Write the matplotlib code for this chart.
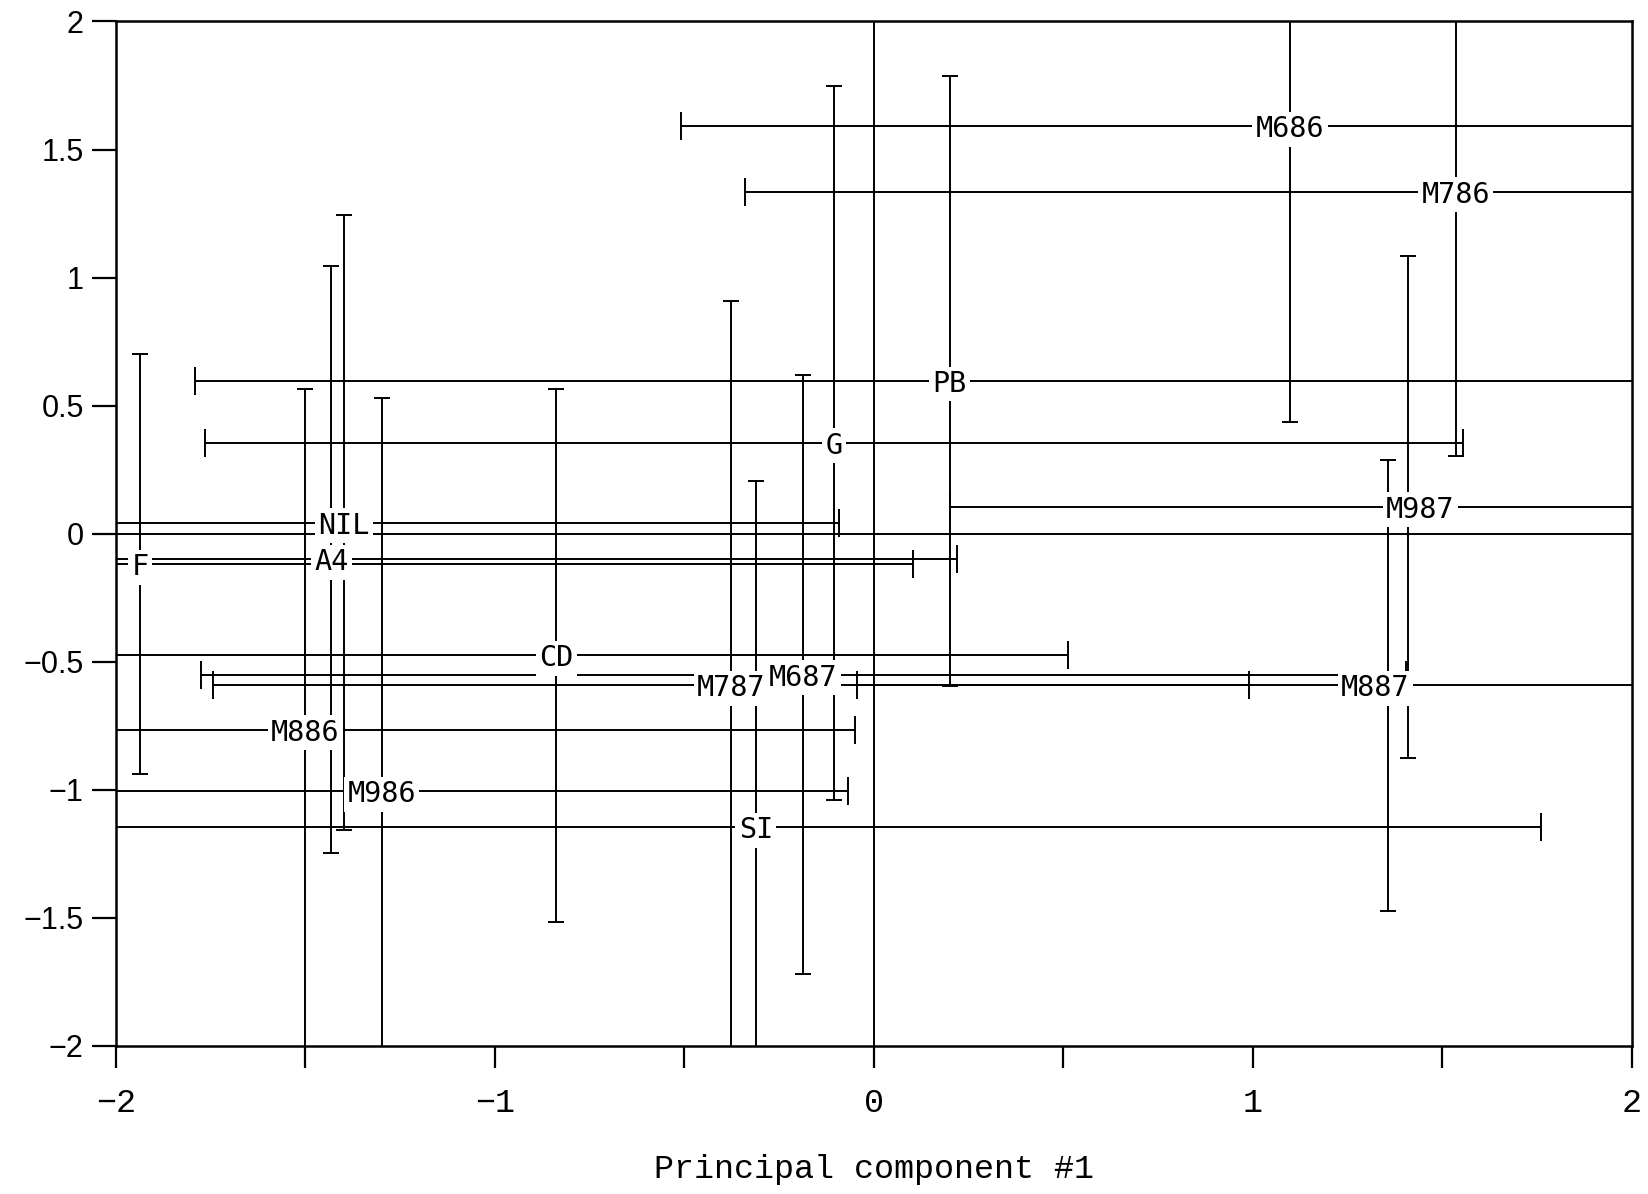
import matplotlib
matplotlib.use("Agg")
import matplotlib.pyplot as plt

# samples: position on the first two principal components with +/- spread
names = ["M686", "M786", "PB", "G", "M987", "NIL", "A4", "F",
         "CD", "M787", "M687", "M887", "M886", "M986", "SI"]
pc1 = [1.098, 1.535, 0.20, -0.105, 1.41, -1.398, -1.431, -1.936,
       -0.838, -0.376, -0.186, 1.357, -1.50, -1.298, -0.311]
pc2 = [1.59, 1.335, 0.596, 0.355, 0.105, 0.043, -0.10, -0.12,
       -0.475, -0.592, -0.55, -0.592, -0.765, -1.006, -1.147]
pc1_err = [1.606, 1.874, 1.99, 1.66, 1.21, 1.306, 1.65, 2.04,
           1.35, 1.366, 1.59, 1.40, 1.45, 1.23, 2.07]
pc2_err = [1.155, 1.03, 1.192, 1.395, 0.98, 1.20, 1.145, 0.82,
           1.04, 1.50, 1.17, 0.88, 1.33, 1.535, 1.354]

# a couple of labels sit a little off their bar crossing in the original
label_dx = {"M887": -0.034, "M987": 0.032}

xticks = [-2, -1.5, -1, -0.5, 0, 0.5, 1, 1.5, 2]
xticklabels = ["\u22122", "", "\u22121", "", "0", "", "1", "", "2"]
yticks = [-2, -1.5, -1, -0.5, 0, 0.5, 1, 1.5, 2]
yticklabels = ["\u22122", "\u22121.5", "\u22121", "\u22120.5", "0", "0.5", "1", "1.5", "2"]

fig = plt.figure(figsize=(16.48, 11.94), dpi=100)
ax = fig.add_axes([0.0702, 0.124, 0.92, 0.858])

lw = 1.4
ax.axhline(0, color="black", lw=lw, zorder=1)
ax.axvline(0, color="black", lw=lw, zorder=1)

ax.errorbar(pc1, pc2, xerr=pc1_err, fmt="none", ecolor="black",
            elinewidth=lw, capsize=10, capthick=lw, zorder=2)
ax.errorbar(pc1, pc2, yerr=pc2_err, fmt="none", ecolor="black",
            elinewidth=lw, capsize=6, capthick=lw, zorder=2)

for name, x, y in zip(names, pc1, pc2):
    ax.text(x + label_dx.get(name, 0), y, name, ha="center", va="center_baseline",
            fontsize=20.5, family=["Liberation Sans Narrow", "DejaVu Sans Mono"],
            bbox=dict(boxstyle="square,pad=0.12", fc="white", ec="none"),
            zorder=5)

ax.set_xlim(-2, 2)
ax.set_ylim(-2, 2)
ax.set_xticks(xticks)
ax.set_xticklabels(xticklabels, family="Liberation Mono", fontsize=24)
ax.set_yticks(yticks)
ax.set_yticklabels(yticklabels, family="Liberation Sans", fontsize=22)
ax.tick_params(axis="x", length=16, width=1.6, pad=14)
ax.tick_params(axis="y", length=17, width=1.6, pad=6)

for sp in ax.spines.values():
    sp.set_linewidth(1.8)

ax.set_xlabel("Principal component #1", family="Liberation Mono", fontsize=24)
ax.xaxis.set_label_coords(0.5, -0.121)
ax.xaxis.label.set_va("center")

fig.savefig("out.png", dpi=100)
